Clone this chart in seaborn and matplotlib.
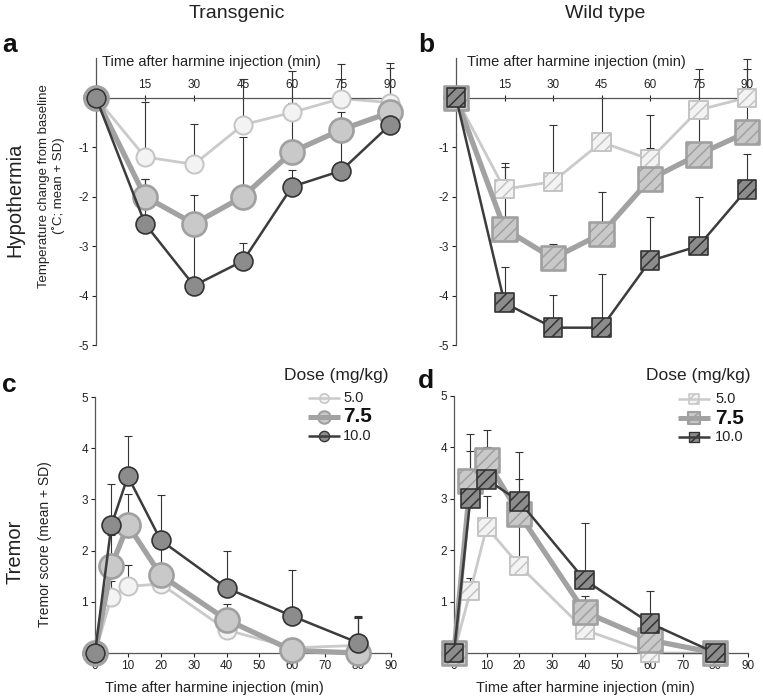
import numpy as np
import pandas as pd
import matplotlib
matplotlib.use("Agg")
import matplotlib.pyplot as plt
import seaborn as sns
from matplotlib.lines import Line2D

# ---------------- data ----------------
doses = ["5.0", "7.5", "10.0"]
times_hypo = [0, 15, 30, 45, 60, 75, 90]
times_tremor = [0, 5, 10, 20, 40, 60, 80]

# Transgenic hypothermia (panel a)
tg_hypo_5 = [0, -1.2, -1.35, -0.55, -0.3, -0.02, -0.1]
tg_hypo_5_sd = [0, 1.12, 0.82, 0.93, 0.83, 0.70, 0.80]
tg_hypo_75 = [0, -2.0, -2.55, -2.0, -1.1, -0.65, -0.3]
tg_hypo_75_sd = [0, 0.35, 0.58, 1.21, 1.0, 0.36, 0.9]
tg_hypo_10 = [0, -2.55, -3.8, -3.3, -1.8, -1.48, -0.55]
tg_hypo_10_sd = [0, 0.9, 1.1, 0.37, 0.34, 0.7, 0.4]

# Wild type hypothermia (panel b)
wt_hypo_5 = [0, -1.85, -1.7, -0.9, -1.25, -0.25, 0.0]
wt_hypo_5_sd = [0, 0.52, 1.14, 0.9, 0.9, 0.83, 0.78]
wt_hypo_75 = [0, -2.65, -3.25, -2.75, -1.65, -1.15, -0.7]
wt_hypo_75_sd = [0, 1.25, 0.29, 0.85, 0.63, 1.0, 1.28]
wt_hypo_10 = [0, -4.15, -4.65, -4.65, -3.3, -3.0, -1.85]
wt_hypo_10_sd = [0, 0.72, 0.66, 1.09, 0.89, 1.0, 0.7]

# Transgenic tremor (panel c)
tg_trem_5 = [0, 1.1, 1.3, 1.35, 0.45, 0.1, 0.15]
tg_trem_5_sd = [0, 0.3, 0.42, 0.2, 0.15, 0.1, 0.55]
tg_trem_75 = [0, 1.7, 2.5, 1.52, 0.65, 0.05, 0.0]
tg_trem_75_sd = [0, 0.6, 0.6, 0.55, 0.3, 0.1, 0.68]
tg_trem_10 = [0, 2.5, 3.45, 2.2, 1.27, 0.72, 0.2]
tg_trem_10_sd = [0, 0.8, 0.78, 0.88, 0.73, 0.9, 0.52]

# Wild type tremor (panel d)
wt_trem_5 = [0, 1.2, 2.45, 1.7, 0.45, 0.0, 0.0]
wt_trem_5_sd = [0, 0.25, 0.6, 0.8, 0.1, 0.0, 0.0]
wt_trem_75 = [0, 3.35, 3.75, 2.7, 0.8, 0.25, 0.0]
wt_trem_75_sd = [0, 0.58, 0.26, 0.68, 0.3, 0.2, 0.0]
wt_trem_10 = [0, 3.0, 3.38, 2.95, 1.42, 0.58, 0.0]
wt_trem_10_sd = [0, 1.27, 0.95, 0.97, 1.11, 0.62, 0.0]

# ---------------- style ----------------
sns.set_theme(style="white")
plt.rcParams["font.family"] = ["Liberation Sans", "DejaVu Sans"]
plt.rcParams["axes.unicode_minus"] = False
plt.rcParams["hatch.linewidth"] = 1.1

W, H = 763, 696
fig = plt.figure(figsize=(W / 100, H / 100), dpi=100)
fig.patch.set_facecolor("white")

def fx(x):
    return x / W

def fy(y):
    return 1 - y / H

def add_axes(x0, x1, y_top, y_bot):
    return fig.add_axes([fx(x0), fy(y_bot), fx(x1) - fx(x0), (y_bot - y_top) / H])

STY = {
    "5.0": dict(line="#cacaca", lw=2.0, face="#f3f3f3", edge="#c4c4c4", s=170, mew=1.4, z=2,
                ls=45, llw=1.8),
    "7.5": dict(line="#a2a2a2", lw=3.8, face="#c9c9c9", edge="#a0a0a0", s=300, mew=1.9, z=4,
                ls=80, llw=3.6),
    "10.0": dict(line="#3c3c3c", lw=1.8, face="#8c8c8c", edge="#333333", s=185, mew=1.2, z=6,
                 ls=55, llw=1.8),
}
SPINE = "#555555"
TICK_FS = 8.5


def draw_panel(ax, times, means, sds, marker):
    for dose, m, sd in zip(doses, means, sds):
        st = STY[dose]
        df = pd.DataFrame({"time": times, "value": m})
        ax.errorbar(times, m, yerr=[np.zeros(len(sd)), sd], fmt="none",
                    ecolor="#333333", elinewidth=0.8, capsize=2.6, capthick=0.8,
                    zorder=1, clip_on=False)
        sns.lineplot(data=df, x="time", y="value", ax=ax, color=st["line"],
                     linewidth=st["lw"], zorder=st["z"], clip_on=False,
                     legend=False, errorbar=None)
        kw = dict(hatch="///") if marker == "s" else {}
        sns.scatterplot(data=df, x="time", y="value", ax=ax, marker=marker,
                        s=st["s"], color=st["face"], edgecolor=st["edge"],
                        linewidth=st["mew"], zorder=st["z"] + 1, clip_on=False,
                        legend=False, **kw)
    ax.set_xlabel("")
    ax.set_ylabel("")


def style_hypo(ax, lab_x):
    ax.set_xlim(0, 92)
    ax.set_ylim(-5, 0.8)
    ax.set_xticks([15, 30, 45, 60, 75, 90])
    ax.set_yticks([0, -1, -2, -3, -4, -5])
    ax.xaxis.set_ticks_position("top")
    ax.xaxis.set_label_position("top")
    ax.spines["top"].set_position(("data", 0))
    ax.spines["bottom"].set_visible(False)
    ax.spines["right"].set_visible(False)
    for s in ("top", "left"):
        ax.spines[s].set_color(SPINE)
        ax.spines[s].set_linewidth(0.9)
    ax.tick_params(axis="x", direction="inout", length=5, width=0.8, pad=2,
                   labelsize=TICK_FS, colors="#222222", top=True, bottom=False)
    ax.tick_params(axis="y", direction="out", length=3, width=0.8, pad=2,
                   labelsize=TICK_FS, colors="#222222", left=True)
    ax.set_xlabel("Time after harmine injection (min)", fontsize=10.5, color="#222222")
    ax.xaxis.set_label_coords(lab_x, 0.986)
    ax.xaxis.label.set_verticalalignment("center")
    ax.patch.set_alpha(0)


def style_tremor(ax, lab_x):
    ax.set_xlim(0, 90)
    ax.set_ylim(0, 5)
    ax.set_xticks(list(range(0, 91, 10)))
    ax.set_yticks([0, 1, 2, 3, 4, 5])
    ax.spines["top"].set_visible(False)
    ax.spines["right"].set_visible(False)
    for s in ("bottom", "left"):
        ax.spines[s].set_color(SPINE)
        ax.spines[s].set_linewidth(0.9)
    ax.tick_params(axis="both", direction="out", length=3, width=0.8, pad=2,
                   labelsize=TICK_FS, colors="#222222", bottom=True, left=True)
    ax.set_xlabel("Time after harmine injection (min)", fontsize=10.5, color="#222222")
    ax.xaxis.set_label_coords(lab_x, -0.137)
    ax.xaxis.label.set_verticalalignment("center")
    ax.patch.set_alpha(0)


ax_a = add_axes(96, 396.6, 58, 345)
ax_b = add_axes(456, 753.5, 58, 345)
ax_c = add_axes(95, 391, 397, 653)
ax_d = add_axes(454, 748, 396, 653)

draw_panel(ax_a, times_hypo, [tg_hypo_5, tg_hypo_75, tg_hypo_10],
           [tg_hypo_5_sd, tg_hypo_75_sd, tg_hypo_10_sd], "o")
draw_panel(ax_b, times_hypo, [wt_hypo_5, wt_hypo_75, wt_hypo_10],
           [wt_hypo_5_sd, wt_hypo_75_sd, wt_hypo_10_sd], "s")
draw_panel(ax_c, times_tremor, [tg_trem_5, tg_trem_75, tg_trem_10],
           [tg_trem_5_sd, tg_trem_75_sd, tg_trem_10_sd], "o")
draw_panel(ax_d, times_tremor, [wt_trem_5, wt_trem_75, wt_trem_10],
           [wt_trem_5_sd, wt_trem_75_sd, wt_trem_10_sd], "s")

style_hypo(ax_a, 0.385)
style_hypo(ax_b, 0.405)
style_tremor(ax_c, 0.402)
style_tremor(ax_d, 0.446)

ax_a.set_ylabel("Temperature change from baseline\n(˚C; mean + SD)", fontsize=9.5,
                color="#222222", linespacing=1.15)
ax_a.yaxis.label.set_verticalalignment("center")
ax_a.yaxis.label.set_horizontalalignment("center")
ax_a.yaxis.set_label_coords(-0.148, 0.554)
ax_c.set_ylabel("Tremor score (mean + SD)", fontsize=10, color="#222222")
ax_c.yaxis.label.set_verticalalignment("center")
ax_c.yaxis.label.set_horizontalalignment("center")
ax_c.yaxis.set_label_coords(-0.169, 0.426)

# titles, row labels, panel letters
fig.text(fx(237), fy(14), "Transgenic", fontsize=14, ha="center", va="center", color="#222222")
fig.text(fx(605), fy(14), "Wild type", fontsize=14, ha="center", va="center", color="#222222")
fig.text(fx(15), fy(200), "Hypothermia", fontsize=14.5, rotation=90, ha="center", va="center",
         color="#222222")
fig.text(fx(15), fy(552), "Tremor", fontsize=14.5, rotation=90, ha="center", va="center",
         color="#222222")
for letter, x, y in [("a", 2, 52), ("b", 418, 52), ("c", 2, 392), ("d", 418, 388)]:
    fig.text(fx(x), fy(y), letter, fontsize=19, fontweight="bold", ha="left",
             va="baseline", color="#111111")

# legends (drawn in figure pixel space)
def draw_legend(ax, title_right, line_x0, line_x1, text_x, ys, marker):
    fig.text(fx(title_right), fy(375), "Dose (mg/kg)", fontsize=12.5, ha="right",
             va="center", color="#222222")
    for dose, y in zip(doses, ys):
        st = STY[dose]
        fig.add_artist(Line2D([fx(line_x0), fx(line_x1)], [fy(y), fy(y)],
                              transform=fig.transFigure, color=st["line"],
                              linewidth=st["llw"], solid_capstyle="butt", zorder=10))
        kw = dict(hatch="///") if marker == "s" else {}
        ax.scatter([fx((line_x0 + line_x1) / 2)], [fy(y)], transform=fig.transFigure,
                   marker=marker, s=st["ls"], c=st["face"], edgecolors=st["edge"],
                   linewidths=st["mew"] * 0.8, zorder=20, clip_on=False, **kw)
        if dose == "7.5":
            fig.text(fx(text_x), fy(y), dose, fontsize=15, fontweight="bold",
                     ha="left", va="center", color="#111111")
        else:
            fig.text(fx(text_x), fy(y), dose, fontsize=10.5, ha="left", va="center",
                     color="#222222")

draw_legend(ax_c, 389, 308, 340, 343, [398, 417, 436], "o")
draw_legend(ax_d, 751, 678, 710, 715, [399, 418, 437], "s")

fig.savefig("out.png", dpi=100, facecolor="white")
